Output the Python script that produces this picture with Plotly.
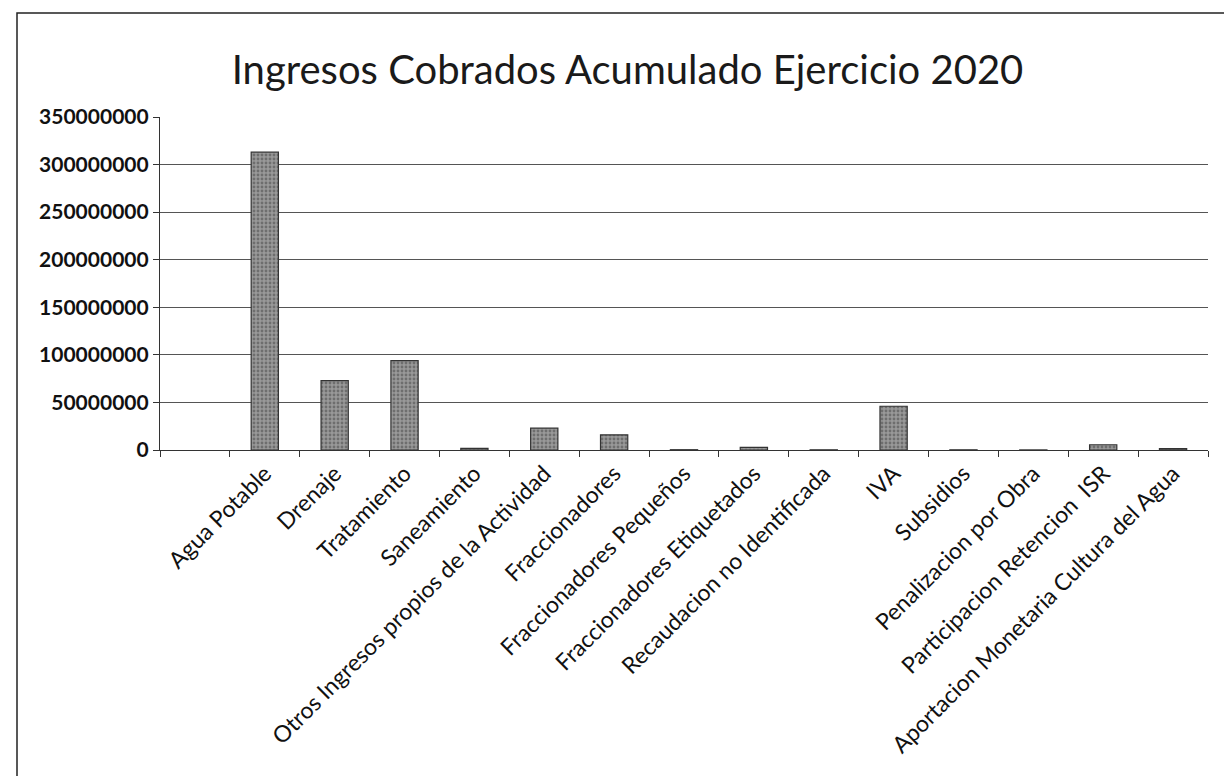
import plotly.graph_objects as go

title_text = "Ingresos Cobrados Acumulado Ejercicio 2020"
categories = [" ", "Agua Potable", "Drenaje", "Tratamiento", "Saneamiento",
              "Otros Ingresos propios de la Actividad", "Fraccionadores",
              "Fraccionadores Pequeños", "Fraccionadores Etiquetados",
              "Recaudacion no Identificada", "IVA", "Subsidios",
              "Penalizacion por Obra", "Participacion Retencion  ISR",
              "Aportacion Monetaria Cultura del Agua"]
values = [None, 313000000, 73000000, 94000000, 1800000, 23000000, 16000000,
          300000, 2800000, 200000, 46000000, 200000, 100000, 5500000, 1500000]
y_ticks = [0, 50000000, 100000000, 150000000, 200000000, 250000000, 300000000, 350000000]

W, H = 1224, 776
L, R, T, B = 160, 16, 117, 326
pw, ph = W - L - R, H - T - B

fig = go.Figure(go.Bar(
    x=categories, y=values,
    marker=dict(color="#8a8a8a", line=dict(color="#333333", width=1.2),
                pattern=dict(shape=".", fgcolor="#444444", bgcolor="#999999", size=4, solidity=0.4)),
    width=0.39,
))

fig.update_layout(
    width=W, height=H,
    margin=dict(l=L, r=R, t=T, b=B),
    paper_bgcolor="white", plot_bgcolor="white",
    showlegend=False,
    font=dict(family="Lato", color="#1a1a1a"),
    title=dict(text=title_text, x=(233 + 1022) / 2 / W, xanchor="center",
               y=1 - 70 / H, yanchor="middle", yref="container",
               font=dict(family="Lato", size=40, color="#1a1a1a")),
    xaxis=dict(type="category", tickangle=-45, tickson="boundaries",
               ticks="outside", ticklen=6, tickcolor="#333", tickwidth=1,
               showline=True, linecolor="#333", linewidth=1.2,
               showgrid=False,
               tickfont=dict(family="Lato", size=23, color="#111111")),
    yaxis=dict(range=[0, 350000000], tickvals=y_ticks, tickformat="d",
               ticks="outside", ticklen=6, tickcolor="#333",
               showline=True, linecolor="#333", linewidth=1.2,
               showgrid=True, gridcolor="#555555", gridwidth=1,
               zeroline=False,
               tickfont=dict(family="Lato", size=21, color="#111111", weight="bold")),
    shapes=[dict(type="rect", xref="paper", yref="paper",
                 x0=(17 - L) / pw, x1=1.2, y0=-1.5, y1=(H - B - 13) / ph,
                 line=dict(color="#222", width=1.5), fillcolor="rgba(0,0,0,0)",
                 layer="below")],
)

fig.write_html("out.html", config={"displayModeBar": False},
               post_script="document.body.style.margin='0';document.body.style.overflow='hidden';")
